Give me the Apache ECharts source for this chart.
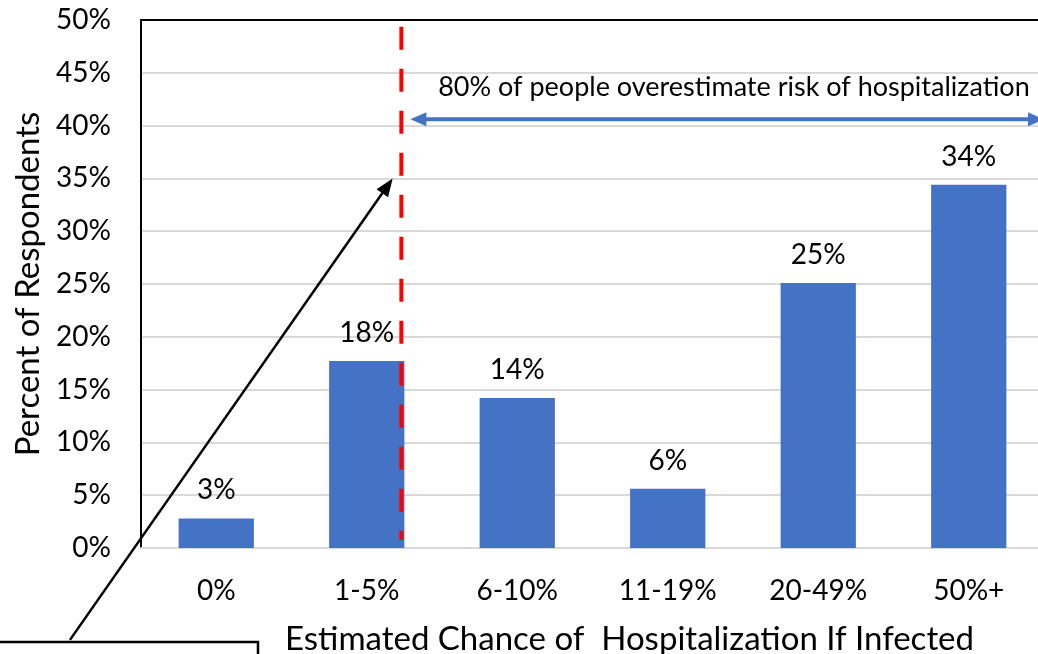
<!DOCTYPE html>
<html>
<head>
<meta charset="utf-8">
<script src="https://cdn.jsdelivr.net/npm/echarts@6/dist/echarts.min.js"></script>
<style>
  html, body { margin: 0; padding: 0; background: #ffffff; }
  #chart { width: 1038px; height: 654px; }
</style>
</head>
<body>
<div id="chart"></div>
<script>
// Survey categories and share of respondents (percent)
const categories = ['0%', '1-5%', '6-10%', '11-19%', '20-49%', '50%+'];
const respondents = [2.8, 17.7, 14.2, 5.6, 25.1, 34.4];
const yTicks = { min: 0, max: 50, interval: 5 };

// Annotation positions in data units (x: category slots 0..6, y: percent)
const cutoffX = 1.73;               // red dashed divider
const cutoffTop = 49.35, cutoffBottom = 0.75;
const spanArrow = { from: 1.79, to: 6.0, y: 40.6 };
const spanText = { x: 3.94, y: 43.6, text: '80% of people overestimate risk of hospitalization' };
const pointer = { from: [-0.472, -8.7], to: [1.672, 35.0] };

const FONT = 'Lato';
const chart = echarts.init(document.getElementById('chart'));

const option = {
  animation: false,
  textStyle: { fontFamily: FONT },
  grid: { left: 141, top: 20, width: 903, height: 528, containLabel: false, outerBoundsMode: 'none' },
  xAxis: [
    {
      type: 'category',
      data: categories,
      position: 'bottom',
      axisLine: { show: true, lineStyle: { color: '#d9d9d9', width: 2 } },
      axisTick: { show: false },
      axisLabel: { color: '#000', fontSize: 28, fontFamily: FONT, margin: 29 },
      name: 'Estimated Chance of  Hospitalization If Infected',
      nameLocation: 'middle',
      nameGap: 75,
      nameTextStyle: { color: '#000', fontSize: 33, fontFamily: FONT, padding: [0, 0, 0, 74] }
    },
    {
      type: 'value',
      position: 'top',
      min: 0, max: 6,
      axisLine: { show: true, onZero: false, lineStyle: { color: '#000', width: 2 } },
      axisTick: { show: false },
      axisLabel: { show: false },
      splitLine: { show: false }
    }
  ],
  yAxis: {
    type: 'value',
    min: yTicks.min, max: yTicks.max, interval: yTicks.interval,
    axisLine: { show: true, lineStyle: { color: '#000', width: 2 } },
    axisTick: { show: false },
    axisLabel: { color: '#000', fontSize: 28, fontFamily: FONT, margin: 30, formatter: '{value}%' },
    splitLine: { lineStyle: { color: '#d9d9d9', width: 2 } },
    name: 'Percent of Respondents',
    nameLocation: 'middle',
    nameGap: 95,
    nameTextStyle: { color: '#000', fontSize: 33, fontFamily: FONT }
  },
  series: [
    {
      type: 'bar',
      xAxisIndex: 0,
      data: respondents,
      barWidth: '50%',
      itemStyle: { color: '#4472C4' },
      label: {
        show: true,
        position: 'top',
        distance: 14,
        color: '#000',
        fontSize: 28,
        fontFamily: FONT,
        formatter: p => Math.round(p.value) + '%'
      },
      z: 2
    }
  ]
};
chart.setOption(option);

// Overlay annotations placed through the chart's own coordinate system
function px(pt) { return chart.convertToPixel({ xAxisIndex: 1, yAxisIndex: 0 }, pt); }

function arrowHead(tip, tail, len, half, color) {
  const dx = tip[0] - tail[0], dy = tip[1] - tail[1];
  const d = Math.hypot(dx, dy), ux = dx / d, uy = dy / d;
  const bx = tip[0] - ux * len, by = tip[1] - uy * len;
  return {
    type: 'polygon', z: 20,
    shape: { points: [tip, [bx - uy * half, by + ux * half], [bx + uy * half, by - ux * half]] },
    style: { fill: color }
  };
}

const cTop = px([cutoffX, cutoffTop]), cBot = px([cutoffX, cutoffBottom]);
const aL = px([spanArrow.from, spanArrow.y]), aR = px([spanArrow.to, spanArrow.y]);
const tPos = px([spanText.x, spanText.y]);
const pFrom = px(pointer.from), pTo = px(pointer.to);
const pLen = Math.hypot(pTo[0] - pFrom[0], pTo[1] - pFrom[1]);
const pHeadBase = [pTo[0] - (pTo[0] - pFrom[0]) * 16 / pLen, pTo[1] - (pTo[1] - pFrom[1]) * 16 / pLen];
const aLBase = [aL[0] + 14, aL[1]], aRBase = [aR[0] - 14, aR[1]];

chart.setOption({
  graphic: [
    {
      type: 'line', z: 15,
      shape: { x1: cTop[0], y1: cTop[1], x2: cBot[0], y2: cBot[1] },
      style: { stroke: '#ff0000', lineWidth: 4, lineDash: [23, 19] }
    },
    {
      type: 'line', z: 15,
      shape: { x1: aLBase[0], y1: aL[1], x2: aRBase[0], y2: aR[1] },
      style: { stroke: '#4472C4', lineWidth: 4 }
    },
    arrowHead(aL, aR, 16, 7, '#4472C4'),
    arrowHead(aR, aL, 16, 7, '#4472C4'),
    {
      type: 'text', z: 15,
      x: tPos[0], y: tPos[1],
      style: { text: spanText.text, fill: '#000', font: '27px ' + FONT, align: 'center', verticalAlign: 'middle' }
    },
    {
      type: 'line', z: 15,
      shape: { x1: pFrom[0], y1: pFrom[1], x2: pHeadBase[0], y2: pHeadBase[1] },
      style: { stroke: '#000', lineWidth: 2.5 }
    },
    arrowHead(pTo, pFrom, 18, 7, '#000'),
    {
      // callout box in the lower-left corner
      type: 'rect', z: 16,
      shape: { x: -4, y: 642, width: 262, height: 40 },
      style: { fill: '#fff', stroke: '#000', lineWidth: 2.5 }
    }
  ]
});
</script>
</body>
</html>
